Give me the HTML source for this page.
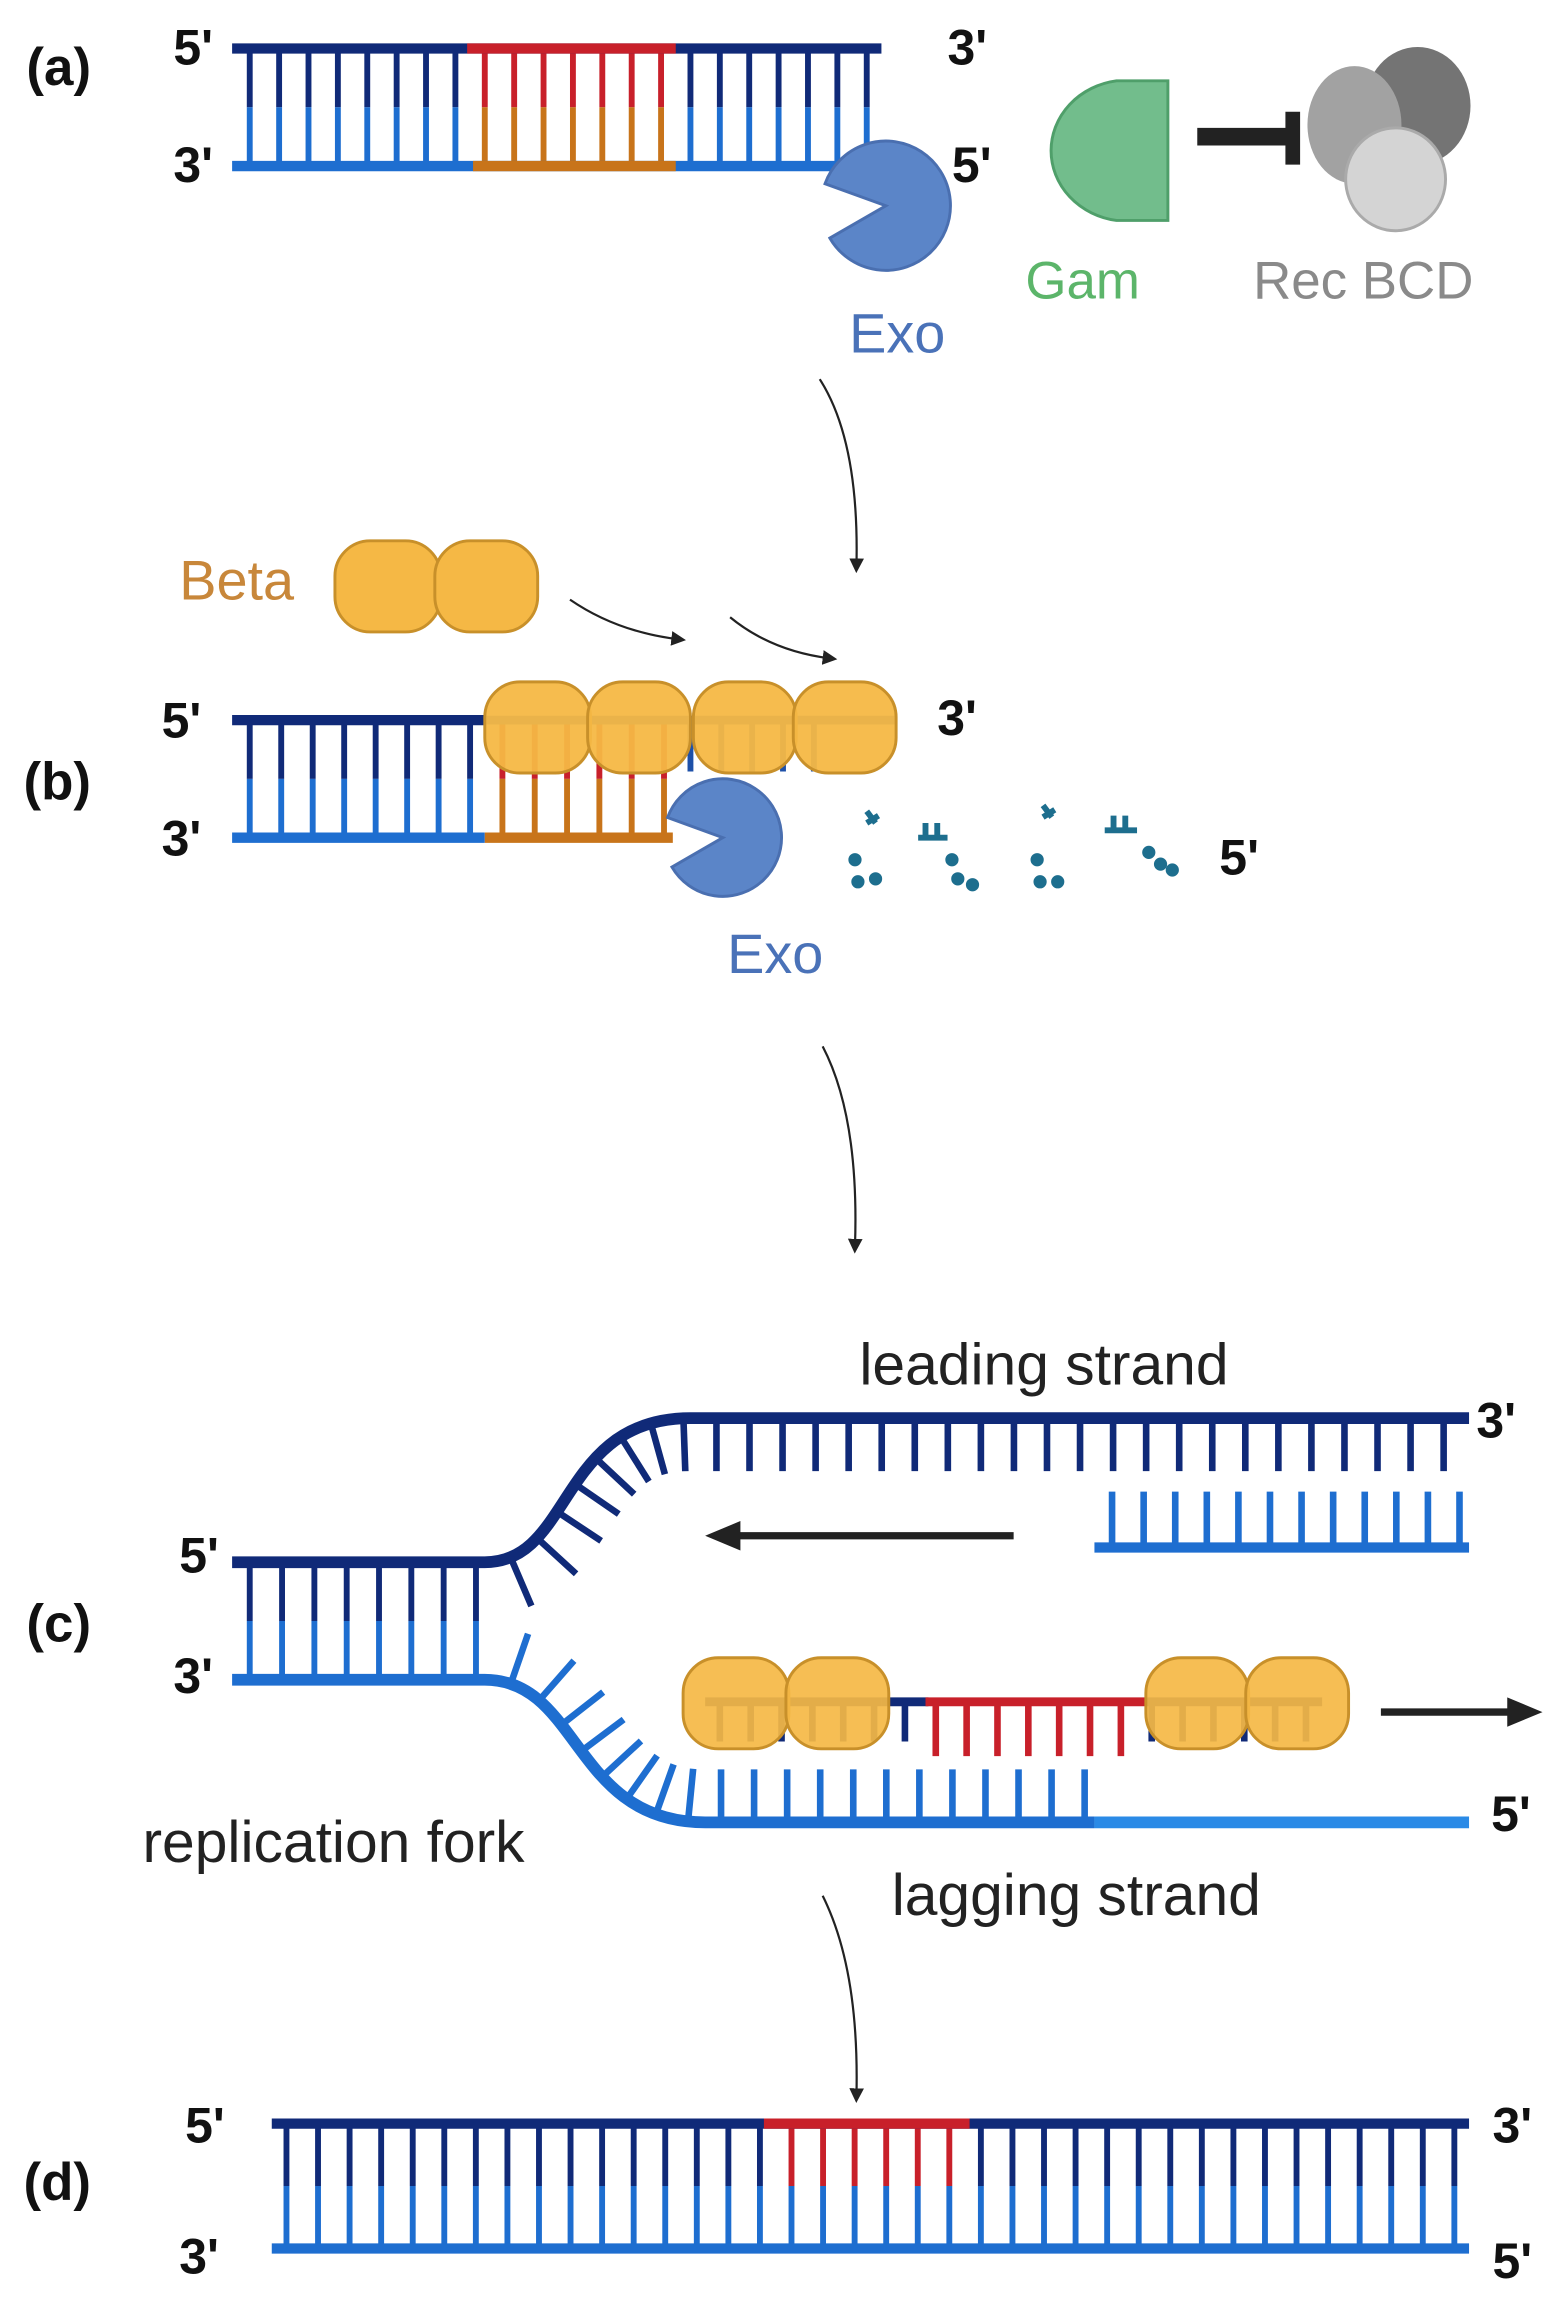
<!DOCTYPE html>
<html><head><meta charset="utf-8"><style>
html,body{margin:0;padding:0;background:#fff;}
svg{display:block;}
text{font-family:"Liberation Sans",sans-serif;}
.lb{font-size:34px;font-weight:bold;fill:#111;}
.tx{font-size:40px;fill:#222;}
</style></head><body>
<svg id="s" width="1566" height="2297" viewBox="0 0 1066 1563" preserveAspectRatio="none" xmlns="http://www.w3.org/2000/svg">
<defs>
<marker id="ah" markerWidth="10" markerHeight="10" refX="5" refY="5" orient="auto" markerUnits="userSpaceOnUse"><path d="M0,0 L10,5 L0,10 z" fill="#222"/></marker>
<marker id="ab" markerWidth="24" markerHeight="24" refX="4" refY="12" orient="auto" markerUnits="userSpaceOnUse"><path d="M0,2 L24,12 L0,22 z" fill="#222"/></marker>
</defs>
<g id="rungs"></g>

<!-- (a) -->
<line x1="158" y1="33" x2="600" y2="33" stroke="#102a78" stroke-width="7"/>
<line x1="318" y1="33" x2="460" y2="33" stroke="#c8202a" stroke-width="7"/>
<line x1="158" y1="113" x2="600" y2="113" stroke="#1e6ed0" stroke-width="7"/>
<line x1="322" y1="113" x2="460" y2="113" stroke="#c8741a" stroke-width="7"/>
<path d="M603,140 L561.6,125 A44,44 0 1,1 564.9,162 Z" fill="#5b85c8" stroke="#4a6fb0" stroke-width="2"/>
<text x="578" y="240" style="font-size:38px;fill:#4a72b8">Exo</text>
<path d="M795,55 L760,55 A52,48 0 0,0 760,150 L795,150 Z" fill="#72bd8c" stroke="#4f9f6a" stroke-width="2"/>
<text x="698" y="203" style="font-size:36px;fill:#5cb56a">Gam</text>
<line x1="815" y1="93" x2="880" y2="93" stroke="#222" stroke-width="12"/>
<line x1="880" y1="76" x2="880" y2="112" stroke="#222" stroke-width="10"/>
<ellipse cx="965" cy="72" rx="36" ry="40" fill="#747474"/>
<ellipse cx="922" cy="85" rx="32" ry="40" fill="#a2a2a2"/>
<ellipse cx="950" cy="122" rx="34" ry="35" fill="#d4d4d4" stroke="#aaa" stroke-width="2"/>
<text x="853" y="203" style="font-size:36px;fill:#8a8a8a">Rec BCD</text>
<text class="lb" x="118" y="44">5'</text><text class="lb" x="118" y="124">3'</text>
<text class="lb" x="645" y="44">3'</text><text class="lb" x="648" y="124">5'</text>
<text class="lb" x="18" y="58" style="font-size:36px">(a)</text>

<path d="M558,258 Q585,300 583,385" fill="none" stroke="#222" stroke-width="1.5" marker-end="url(#ah)"/>

<!-- (b) -->
<text x="122" y="408" style="font-size:38px;fill:#c8873a">Beta</text>
<rect x="228" y="368" width="72" height="62" rx="24" fill="#f5b845" stroke="#c8902a" stroke-width="2"/>
<rect x="296" y="368" width="70" height="62" rx="24" fill="#f5b845" stroke="#c8902a" stroke-width="2"/>
<path d="M388,408 Q420,430 462,435" fill="none" stroke="#222" stroke-width="1.5" marker-end="url(#ah)"/>
<path d="M497,420 Q525,443 565,448" fill="none" stroke="#222" stroke-width="1.5" marker-end="url(#ah)"/>
<line x1="158" y1="490" x2="330" y2="490" stroke="#102a78" stroke-width="7"/>
<line x1="158" y1="570" x2="330" y2="570" stroke="#1e6ed0" stroke-width="7"/>
<line x1="330" y1="570" x2="458" y2="570" stroke="#c8741a" stroke-width="7"/>
<line x1="330" y1="490" x2="610" y2="490" stroke="#1e50a8" stroke-width="6"/>
<g fill="#f5b845" stroke="#c8902a" stroke-width="2" fill-opacity="0.95">
<rect x="330" y="464" width="72" height="62" rx="24"/><rect x="400" y="464" width="70" height="62" rx="24"/>
<rect x="472" y="464" width="70" height="62" rx="24"/><rect x="540" y="464" width="70" height="62" rx="24"/>
</g>
<path d="M492,570 L454.4,556.3 A40,40 0 1,1 457.4,590 Z" fill="#5b85c8" stroke="#4a6fb0" stroke-width="2"/>
<text x="495" y="662" style="font-size:38px;fill:#4a72b8">Exo</text>
<g stroke="#1d6e8e" stroke-width="4" fill="#1d6e8e">
<path d="M590,552 l6,8 M598,555 l-8,5" fill="none"/><path d="M625,570 h20 M630,560 v12 M638,560 v12" fill="none"/>
<path d="M710,548 l6,8 M718,551 l-8,5" fill="none"/><path d="M752,565 h22 M758,555 v12 M766,555 v12" fill="none"/>
<circle cx="582" cy="585" r="2.5"/><circle cx="584" cy="600" r="2.5"/><circle cx="596" cy="598" r="2.5"/>
<circle cx="648" cy="585" r="2.5"/><circle cx="652" cy="598" r="2.5"/><circle cx="662" cy="602" r="2.5"/>
<circle cx="706" cy="585" r="2.5"/><circle cx="708" cy="600" r="2.5"/><circle cx="720" cy="600" r="2.5"/>
<circle cx="782" cy="580" r="2.5"/><circle cx="790" cy="588" r="2.5"/><circle cx="798" cy="592" r="2.5"/>
</g>
<text class="lb" x="830" y="595">5'</text>
<text class="lb" x="638" y="500">3'</text><text class="lb" x="110" y="502">5'</text><text class="lb" x="110" y="582">3'</text>
<text class="lb" x="16" y="544" style="font-size:36px">(b)</text>

<path d="M560,712 Q585,760 582,848" fill="none" stroke="#222" stroke-width="1.5" marker-end="url(#ah)"/>

<!-- (c) -->
<path id="top" d="M158,1063 L330,1063 C390,1063 380,965 470,965 L1000,965" fill="none" stroke="#102a78" stroke-width="8"/>
<path id="bot" d="M158,1143 L330,1143 C395,1143 390,1240 480,1240 L745,1240" fill="none" stroke="#1e6ed0" stroke-width="8"/>
<line x1="745" y1="1240" x2="1000" y2="1240" stroke="#2a8ae6" stroke-width="8"/>
<line x1="745" y1="1053" x2="1000" y2="1053" stroke="#1e6ed0" stroke-width="7"/>
<line x1="600" y1="1158" x2="632" y2="1158" stroke="#102a78" stroke-width="6"/>
<line x1="630" y1="1158" x2="780" y2="1158" stroke="#c8202a" stroke-width="6"/>
<line x1="780" y1="1158" x2="900" y2="1158" stroke="#102a78" stroke-width="6"/>
<line x1="480" y1="1158" x2="600" y2="1158" stroke="#102a78" stroke-width="6"/>
<g id="rc"></g>
<g fill="#f5b845" stroke="#c8902a" stroke-width="2" fill-opacity="0.92">
<rect x="465" y="1128" width="72" height="62" rx="24"/><rect x="535" y="1128" width="70" height="62" rx="24"/>
<rect x="780" y="1128" width="70" height="62" rx="24"/><rect x="848" y="1128" width="70" height="62" rx="24"/>
</g>
<line x1="690" y1="1045" x2="500" y2="1045" stroke="#222" stroke-width="5" marker-end="url(#ab)"/>
<line x1="940" y1="1165" x2="1030" y2="1165" stroke="#222" stroke-width="5" marker-end="url(#ab)"/>
<text class="tx" x="585" y="942">leading strand</text>
<text class="lb" x="1005" y="978">3'</text>
<text class="lb" x="122" y="1070">5'</text><text class="lb" x="118" y="1152">3'</text>
<text class="lb" x="18" y="1117" style="font-size:36px">(c)</text>
<text class="tx" x="97" y="1267">replication fork</text>
<text class="lb" x="1015" y="1246">5'</text>
<text class="tx" x="607" y="1303">lagging strand</text>

<path d="M560,1290 Q585,1340 583,1426" fill="none" stroke="#222" stroke-width="1.5" marker-end="url(#ah)"/>

<!-- (d) -->
<line x1="185" y1="1445" x2="1000" y2="1445" stroke="#102a78" stroke-width="7"/>
<line x1="520" y1="1445" x2="660" y2="1445" stroke="#c8202a" stroke-width="7"/>
<line x1="185" y1="1530" x2="1000" y2="1530" stroke="#1e6ed0" stroke-width="7"/>
<text class="lb" x="126" y="1458">5'</text><text class="lb" x="1016" y="1458">3'</text>
<text class="lb" x="16" y="1497" style="font-size:36px">(d)</text>
<text class="lb" x="122" y="1547">3'</text><text class="lb" x="1016" y="1550">5'</text>
</svg>
<script>
var NS="http://www.w3.org/2000/svg";
var R=document.getElementById("rungs"),RC=document.getElementById("rc");
function L(g,x1,y1,x2,y2,c,w){var l=document.createElementNS(NS,"line");l.setAttribute("x1",x1);l.setAttribute("y1",y1);l.setAttribute("x2",x2);l.setAttribute("y2",y2);l.setAttribute("stroke",c);l.setAttribute("stroke-width",w||4);g.appendChild(l);}
function duplex(x0,x1,n,yt,yb,redA,redB,botRed){
 var ym=(yt+yb)/2;
 for(var i=0;i<n;i++){var x=x0+(x1-x0)*i/(n-1);
  var red=x>redA&&x<redB;
  L(R,x,yt,x,ym,red?"#c8202a":"#102a78");
  L(R,x,ym,x,yb,red&&botRed?"#c8741a":"#1e6ed0");}
}
duplex(170,590,22,33,113,318,460,true);
duplex(170,320,8,490,570,0,0,false);
for(var i=0;i<6;i++){var x=342+i*22;L(R,x,490,x,530,"#c8202a");L(R,x,530,x,570,"#c8741a");}
for(var i=0;i<5;i++){var x=470+i*21;L(R,x,490,x,525,"#1e50a8");}
duplex(195,990,38,1445,1530,528,655,false);
for(var i=0;i<8;i++){var x=170+i*22;L(RC,x,1063,x,1103,"#102a78");L(RC,x,1103,x,1143,"#1e6ed0");}
function alongPath(id,from,to,step,len,sign,col,colFn){
 var p=document.getElementById(id),T=p.getTotalLength();
 for(var s=from;s<Math.min(to,T);s+=step){
  var a=p.getPointAtLength(s),b=p.getPointAtLength(s+1);
  var dx=b.x-a.x,dy=b.y-a.y,m=Math.hypot(dx,dy);var nx=-dy/m*sign,ny=dx/m*sign;
  L(RC,a.x,a.y,a.x+nx*len,a.y+ny*len,colFn?colFn(a.x):col,4.5);}
}
alongPath("top",190,2000,22.5,36,1,"#102a78");
alongPath("bot",190,2000,22.5,36,-1,"#1e6ed0",function(x){return x>745?"#2a8ae6":"#1e6ed0";});
for(var i=0;i<12;i++){var x=757+i*21.5;L(RC,x,1053,x,1015,"#1e6ed0",4.5);}
for(var i=0;i<20;i++){var x=490+i*21;var c=(x>632&&x<780)?"#c8202a":"#102a78";L(RC,x,1158,x,(x>632&&x<780)?1195:1185,c,4.5);}
</script>
</body></html>
